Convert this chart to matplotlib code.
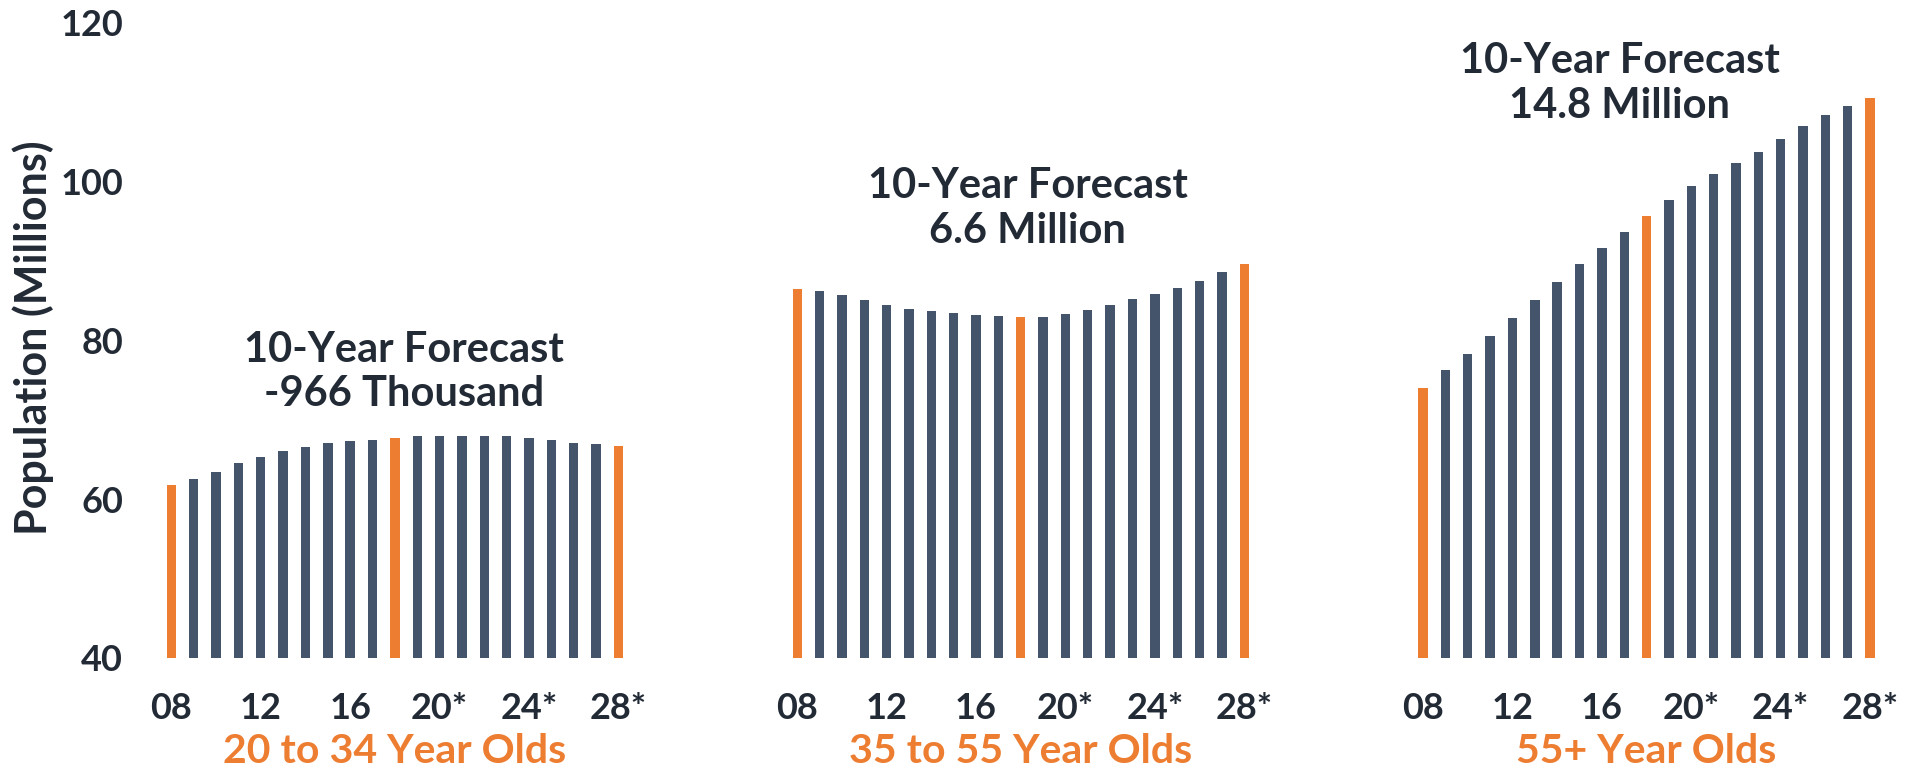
import matplotlib
matplotlib.use("Agg")
import matplotlib.pyplot as plt
import matplotlib.transforms as mtransforms

# Population by age group, 2008 through 2028 (forecast years marked with *)
groups = ["20 to 34 Year Olds", "35 to 55 Year Olds", "55+ Year Olds"]
years = ["08", "09", "10", "11", "12", "13", "14", "15", "16", "17", "18",
         "19", "20", "21", "22", "23", "24", "25", "26", "27", "28"]
tick_years = ["08", "12", "16", "20*", "24*", "28*"]

pop_20_34 = [61.8, 62.5, 63.4, 64.5, 65.3, 66.0, 66.5, 67.0, 67.3, 67.5, 67.7,
             67.9, 68.0, 68.0, 68.0, 68.0, 67.7, 67.4, 67.1, 66.9, 66.7]
pop_35_55 = [86.5, 86.2, 85.7, 85.1, 84.5, 84.0, 83.7, 83.5, 83.2, 83.1, 83.0,
             83.0, 83.3, 83.8, 84.4, 85.2, 85.9, 86.6, 87.5, 88.6, 89.6]
pop_55_plus = [74.0, 76.2, 78.3, 80.6, 82.8, 85.1, 87.3, 89.6, 91.7, 93.7, 95.7,
               97.7, 99.4, 101.0, 102.3, 103.8, 105.4, 107.0, 108.4, 109.6, 110.5]
series = [pop_20_34, pop_35_55, pop_55_plus]

highlight_years = ["08", "18", "28"]
forecasts = ["10-Year Forecast\n-966 Thousand",
             "10-Year Forecast\n6.6 Million",
             "10-Year Forecast\n14.8 Million"]

DARK = "#44546A"
ORANGE = "#ED7D31"
TEXT = "#222A35"
FONT = ["Lato", "DejaVu Sans"]

plt.rcParams["font.family"] = FONT
plt.rcParams["font.weight"] = "bold"

W, H = 1907, 768
fig = plt.figure(figsize=(W / 100, H / 100), dpi=100)
ax_left, ax_right = 130, 1907
ax_bottom, ax_top = 657.7, 23.0
ax = fig.add_axes([ax_left / W, 1 - ax_bottom / H,
                   (ax_right - ax_left) / W, (ax_bottom - ax_top) / H])

group_step = len(years) + 7
tick_pos, tick_lab = [], []
for g, values in enumerate(series):
    xs = [g * group_step + i for i in range(len(years))]
    colors = [ORANGE if y in highlight_years else DARK for y in years]
    ax.bar(xs, [v - 40 for v in values], bottom=40, width=0.42, color=colors,
           edgecolor="none")
    for lab in tick_years:
        tick_pos.append(g * group_step + years.index(lab.rstrip("*")))
        tick_lab.append(lab)

ax.set_ylim(40, 120)
ax.set_xlim(-1.85, 77.65)
ax.set_yticks([40, 60, 80, 100, 120])
ax.set_xticks(tick_pos)
ax.set_xticklabels(tick_lab)
ax.tick_params(axis="both", length=0, labelsize=26, labelcolor=TEXT)
ax.tick_params(axis="y", pad=5)
ax.tick_params(axis="x", pad=25)
for s in ax.spines.values():
    s.set_visible(False)

# forecast annotations above each group
ann_pos = [(10.4, 76.0), (38.3, 96.6), (64.8, 112.4)]
for (x, y), txt in zip(ann_pos, forecasts):
    ax.text(x, y, txt, ha="center", va="center", fontsize=30,
            color=TEXT, linespacing=1.22, fontweight="bold")

# group names below the year ticks
trans = mtransforms.blended_transform_factory(ax.transData, fig.transFigure)
for g, name in enumerate(groups):
    cx = g * group_step + (len(years) - 1) / 2
    ax.text(cx, 1 - 763 / H, name, transform=trans, ha="center", va="baseline",
            fontsize=29.5, color=ORANGE, fontweight="bold")

fig.text(33 / W, 1 - 338 / H, "Population (Millions)", rotation=90,
         ha="center", va="center", fontsize=31, color=TEXT, fontweight="bold")

fig.savefig("out.png", dpi=100)
